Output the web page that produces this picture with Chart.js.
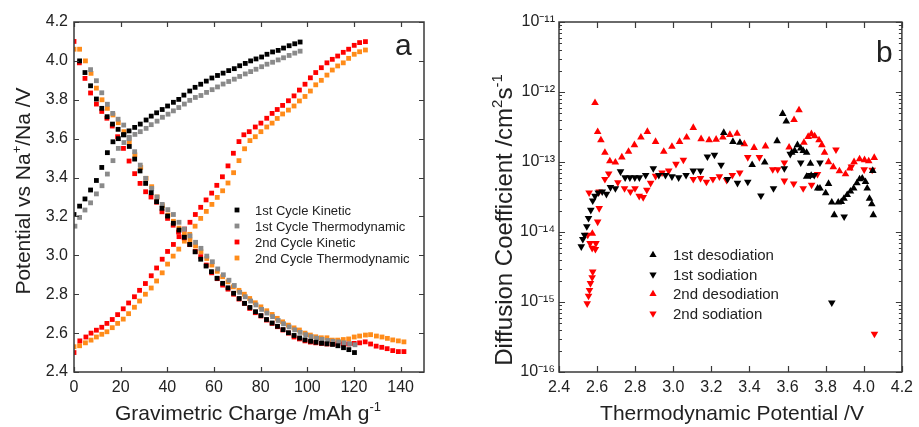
<!DOCTYPE html>
<html>
<head>
<meta charset="utf-8">
<script src="https://cdn.jsdelivr.net/npm/chart.js@4.4.0/dist/chart.umd.min.js"></script>
<style>
  html, body { margin: 0; padding: 0; background: #fff; }
  #wrap { position: relative; width: 919px; height: 427px; overflow: hidden; }
  canvas { position: absolute; top: 0; }
  #chartA { left: 0; }
  #chartB { left: 460px; }
</style>
</head>
<body>
<div id="wrap">
  <canvas id="chartA" width="460" height="427"></canvas>
  <canvas id="chartB" width="459" height="427"></canvas>
</div>
<script>
// ---- panel a : potential vs gravimetric charge, [charge mAh/g, potential V] ----
const k1Charge = [[0,3.21],[2.4,3.253],[4.7,3.29],[7.1,3.336],[9.6,3.385],[11.9,3.452],[14.3,3.528],[16.7,3.584],[19.0,3.60],[21.4,3.62],[23.6,3.64],[26.0,3.658],[28.4,3.675],[30.9,3.696],[33.1,3.716],[35.4,3.733],[37.8,3.75],[40.1,3.768],[42.6,3.787],[44.9,3.802],[47.1,3.824],[49.6,3.845],[51.9,3.864],[54.3,3.88],[56.7,3.896],[59.1,3.912],[61.5,3.925],[63.9,3.937],[66.3,3.95],[68.7,3.96],[71.0,3.975],[73.4,3.987],[75.7,4.0],[78.0,4.01],[80.4,4.02],[82.7,4.034],[85.1,4.046],[87.5,4.054],[89.8,4.066],[92.2,4.078],[94.6,4.088],[96.9,4.097]];
const k1Discharge = [[2.4,4.0],[4.7,3.94],[7.1,3.872],[9.6,3.804],[11.9,3.756],[14.2,3.713],[16.5,3.675],[18.9,3.648],[21.2,3.62],[23.7,3.56],[26.0,3.495],[28.3,3.434],[30.7,3.37],[33.1,3.322],[35.4,3.276],[37.7,3.242],[40.1,3.202],[42.6,3.165],[45.0,3.13],[47.3,3.093],[49.6,3.056],[51.9,3.018],[54.3,2.98],[56.6,2.945],[58.9,2.916],[61.3,2.882],[63.7,2.856],[66.0,2.833],[68.4,2.805],[70.8,2.778],[73.1,2.753],[75.4,2.732],[77.8,2.71],[80.1,2.69],[82.5,2.67],[84.9,2.652],[87.2,2.635],[89.6,2.618],[91.9,2.602],[94.3,2.588],[96.7,2.575],[99.0,2.565],[101.4,2.558],[103.7,2.553],[106.1,2.548],[108.4,2.545],[110.8,2.542],[113.1,2.535],[115.5,2.525],[117.8,2.515],[120.2,2.50]];
const t1Charge = [[0.4,3.15],[2.4,3.195],[4.7,3.233],[7.1,3.27],[9.6,3.316],[12.0,3.358],[14.3,3.418],[16.7,3.487],[19.0,3.55],[21.4,3.58],[23.7,3.607],[26.1,3.622],[28.4,3.636],[30.9,3.653],[33.1,3.672],[35.6,3.69],[37.9,3.71],[40.3,3.726],[42.6,3.743],[44.9,3.76],[47.3,3.778],[49.6,3.797],[52.0,3.812],[54.4,3.822],[56.8,3.838],[59.2,3.852],[61.5,3.866],[63.9,3.881],[66.3,3.894],[68.7,3.906],[71.0,3.92],[73.4,3.933],[75.7,3.945],[78.0,3.957],[80.4,3.97],[82.7,3.983],[85.1,3.993],[87.5,4.005],[89.8,4.016],[92.2,4.028],[94.6,4.04],[96.9,4.05]];
const t1Discharge = [[7.1,3.955],[9.6,3.898],[11.9,3.836],[14.3,3.777],[16.6,3.73],[18.9,3.70],[21.3,3.67],[23.6,3.60],[26.0,3.533],[28.4,3.464],[30.7,3.396],[33.3,3.344],[35.6,3.30],[37.8,3.262],[40.2,3.235],[42.6,3.21],[45.0,3.17],[47.3,3.135],[49.7,3.10],[52.1,3.067],[54.4,3.036],[56.9,2.996],[59.3,2.967],[61.6,2.93],[64.0,2.90],[66.4,2.872],[68.7,2.845],[71.0,2.81],[73.4,2.787],[75.7,2.765],[78.0,2.745],[80.4,2.722],[82.7,2.703],[85.1,2.685],[87.5,2.665],[89.8,2.648],[92.2,2.632],[94.6,2.617],[96.9,2.604],[99.3,2.592],[101.6,2.582],[104.0,2.574],[106.3,2.568],[108.7,2.562],[111.0,2.558],[113.4,2.555],[115.7,2.55],[118.1,2.545],[120.4,2.54]];
const k2Charge = [[0,2.50],[2.5,2.56],[5.1,2.58],[7.3,2.60],[9.6,2.615],[11.9,2.63],[14.1,2.65],[16.4,2.67],[18.7,2.695],[21.1,2.725],[23.4,2.755],[25.9,2.787],[28.1,2.82],[30.6,2.855],[33.1,2.895],[35.4,2.935],[37.8,2.98],[40.1,3.02],[42.6,3.056],[45.0,3.096],[47.4,3.135],[49.7,3.17],[52.0,3.21],[54.3,3.247],[56.6,3.285],[59.0,3.32],[61.2,3.36],[63.6,3.404],[66.0,3.46],[68.3,3.525],[70.7,3.585],[72.8,3.62],[75.1,3.636],[77.7,3.66],[80.1,3.68],[82.6,3.705],[84.9,3.73],[87.1,3.75],[89.4,3.771],[91.9,3.795],[94.3,3.82],[96.6,3.85],[99.0,3.88],[101.3,3.913],[103.6,3.94],[106.0,3.965],[108.4,3.99],[110.7,4.008],[113.0,4.025],[115.4,4.044],[117.7,4.06],[120.1,4.08],[122.4,4.094],[124.9,4.099]];
const k2Discharge = [[0,4.10],[2.3,3.99],[4.7,3.91],[7.1,3.835],[9.6,3.778],[11.9,3.74],[14.1,3.705],[16.4,3.665],[18.7,3.61],[21.2,3.55],[23.6,3.485],[26.0,3.42],[28.3,3.37],[30.7,3.327],[33.0,3.30],[35.4,3.273],[37.7,3.224],[40.1,3.19],[42.5,3.155],[44.8,3.12],[47.2,3.09],[49.6,3.055],[52.0,3.02],[54.3,2.993],[56.7,2.95],[59.0,2.91],[61.4,2.88],[63.7,2.847],[66.0,2.826],[68.4,2.80],[70.7,2.775],[73.0,2.753],[75.3,2.727],[77.7,2.705],[80.1,2.688],[82.5,2.667],[84.9,2.65],[87.2,2.633],[89.5,2.616],[91.9,2.60],[94.3,2.58],[96.6,2.57],[99.0,2.56],[101.3,2.554],[103.6,2.55],[106.0,2.547],[108.4,2.544],[110.7,2.544],[113.0,2.544],[115.4,2.544],[117.7,2.544],[120.1,2.547],[122.4,2.55],[124.8,2.555],[127.1,2.544],[129.5,2.533],[131.9,2.527],[134.2,2.52],[136.6,2.51],[139.0,2.505],[141.4,2.505]];
const t2Charge = [[0,2.53],[2.4,2.535],[4.9,2.55],[7.3,2.564],[9.6,2.58],[11.9,2.594],[14.1,2.607],[16.4,2.628],[18.7,2.65],[21.1,2.672],[23.4,2.70],[25.9,2.733],[28.1,2.765],[30.6,2.80],[33.1,2.832],[35.4,2.868],[37.8,2.91],[40.1,2.955],[42.5,2.996],[44.9,3.032],[47.3,3.073],[49.6,3.108],[51.9,3.15],[54.3,3.19],[56.7,3.226],[59.1,3.262],[61.4,3.298],[63.7,3.332],[66.0,3.372],[68.4,3.425],[70.7,3.487],[73.1,3.548],[75.4,3.59],[77.7,3.61],[80.1,3.636],[82.6,3.66],[84.9,3.68],[87.1,3.704],[89.4,3.727],[91.9,3.747],[94.3,3.768],[96.6,3.794],[99.0,3.817],[101.3,3.845],[103.6,3.877],[106.0,3.90],[108.4,3.927],[110.7,3.953],[113.0,3.974],[115.4,3.99],[117.7,4.013],[120.1,4.034],[122.4,4.047],[124.9,4.056]];
const t2Discharge = [[0,4.06],[2.4,4.06],[4.9,4.0],[7.3,3.936],[9.6,3.86],[12.0,3.80],[14.3,3.756],[16.7,3.722],[19.0,3.682],[21.4,3.636],[23.7,3.584],[26.1,3.517],[28.6,3.452],[30.9,3.396],[33.3,3.353],[35.6,3.30],[37.9,3.255],[40.3,3.207],[42.6,3.175],[45.0,3.14],[47.3,3.11],[49.7,3.08],[52.1,3.048],[54.4,3.018],[56.9,2.984],[59.1,2.95],[61.4,2.918],[63.7,2.89],[66.0,2.864],[68.3,2.838],[70.7,2.82],[73.0,2.80],[75.3,2.778],[77.7,2.756],[80.1,2.735],[82.6,2.715],[84.9,2.696],[87.1,2.676],[89.4,2.658],[91.9,2.641],[94.3,2.627],[96.6,2.616],[99.0,2.60],[101.3,2.59],[103.6,2.581],[106.0,2.576],[108.4,2.576],[110.7,2.564],[113.0,2.564],[115.4,2.567],[117.7,2.57],[120.1,2.58],[122.4,2.585],[124.9,2.59],[127.1,2.592],[129.6,2.585],[132.0,2.58],[134.3,2.573],[136.6,2.565],[139.0,2.56],[141.4,2.555]];

const xTicksA = [0, 20, 40, 60, 80, 100, 120, 140];
const yTicksA = [2.4, 2.6, 2.8, 3.0, 3.2, 3.4, 3.6, 3.8, 4.0, 4.2];

// ---- panel b : diffusion coefficient vs thermodynamic potential, [V, cm2/s] ----
const desod1 = [[3.265,2.62e-13],[3.313,1.95e-13],[3.35,1.89e-13],[3.414,9.1e-14],[3.48,9.9e-14],[3.545,2.0e-13],[3.574,4.9e-13],[3.593,3.8e-13],[3.622,1.36e-13],[3.637,1.45e-13],[3.652,1.75e-13],[3.669,1.57e-13],[3.682,1.44e-13],[3.70,1.36e-13],[3.70,6.2e-14],[3.72,9.5e-14],[3.724,6.4e-14],[3.758,4.2e-14],[3.77,4.2e-14],[3.80,3.6e-14],[3.815,4.9e-14],[3.832,2.65e-14],[3.845,1.75e-14],[3.866,2.65e-14],[3.882,2.7e-14],[3.896,3.0e-14],[3.913,3.4e-14],[3.93,3.8e-14],[3.947,4.2e-14],[3.964,5.0e-14],[3.978,5.7e-14],[3.992,5.85e-14],[4.009,5.2e-14],[4.018,4.2e-14],[4.03,3.0e-14],[4.042,2.5e-14],[4.047,7.5e-14],[4.05,1.75e-14]];
const sod1 = [[2.517,6.2e-15],[2.525,7.9e-15],[2.534,9.1e-15],[2.546,1.2e-14],[2.555,1.58e-14],[2.567,2.06e-14],[2.577,2.8e-14],[2.589,3.27e-14],[2.606,3.65e-14],[2.627,3.77e-14],[2.649,3.49e-14],[2.67,4.35e-14],[2.696,4.2e-14],[2.723,7.3e-14],[2.747,6.0e-14],[2.772,6.0e-14],[2.798,6.0e-14],[2.822,6.0e-14],[2.855,6.5e-14],[2.895,8.1e-14],[2.924,6.5e-14],[2.959,6.5e-14],[2.993,6.2e-14],[3.028,6.0e-14],[3.067,6.5e-14],[3.105,7.5e-14],[3.143,7.5e-14],[3.179,1.19e-13],[3.216,1.26e-13],[3.251,9.1e-14],[3.285,5.7e-14],[3.337,5.0e-14],[3.391,5.2e-14],[3.46,3.3e-14],[3.526,4.2e-14],[3.583,8.1e-14],[3.614,1.3e-13],[3.669,9.8e-14],[3.72,6.5e-14],[3.74,6.5e-14],[3.77,9.8e-14],[3.832,9.8e-16],[3.897,1.66e-14]];
const desod2 = [[2.575,9.5e-15],[2.589,7.0e-13],[2.603,2.7e-13],[2.62,2.06e-13],[2.641,1.36e-13],[2.667,1.03e-13],[2.696,9.9e-14],[2.73,1.17e-13],[2.765,1.41e-13],[2.796,1.75e-13],[2.83,2.25e-13],[2.864,2.71e-13],[2.907,1.95e-13],[2.95,1.41e-13],[2.993,1.66e-13],[3.033,1.95e-13],[3.07,2.25e-13],[3.105,3.09e-13],[3.146,2.13e-13],[3.188,2.06e-13],[3.225,2.1e-13],[3.26,2.25e-13],[3.297,2.45e-13],[3.335,2.55e-13],[3.373,1.81e-13],[3.424,1.6e-13],[3.484,1.68e-13],[3.608,1.62e-13],[3.634,4.0e-13],[3.66,5.5e-13],[3.686,1.89e-13],[3.708,2.3e-13],[3.725,2.51e-13],[3.742,2.34e-13],[3.765,2.06e-13],[3.78,1.75e-13],[3.794,1.36e-13],[3.815,1.0e-13],[3.84,8.5e-14],[3.872,7.4e-14],[3.904,6.7e-14],[3.927,8.1e-14],[3.949,1.0e-13],[3.978,1.1e-13],[4.004,1.07e-13],[4.026,1.03e-13],[4.055,1.15e-13]];
const sod2 = [[2.548,9.5e-16],[2.555,1.22e-15],[2.56,1.48e-15],[2.565,1.85e-15],[2.574,2.25e-15],[2.577,2.7e-15],[2.551,9.1e-15],[2.563,6.9e-15],[2.574,5.9e-15],[2.594,6.9e-15],[2.591,5.7e-15],[2.603,1.4e-14],[2.611,2.18e-14],[2.611,3.77e-14],[2.558,3.65e-14],[2.641,5.7e-14],[2.661,6.8e-14],[2.709,5.1e-14],[2.744,4.2e-14],[2.775,3.77e-14],[2.799,4.2e-14],[2.821,3.27e-14],[2.842,3.13e-14],[2.861,4.0e-14],[2.881,5.0e-14],[2.907,6.3e-14],[2.941,7.05e-14],[2.976,7.5e-14],[3.014,9.35e-14],[3.053,1.07e-13],[3.105,5.7e-14],[3.143,5.85e-14],[3.174,5.2e-14],[3.208,5.7e-14],[3.242,6.2e-14],[3.28,5.5e-14],[3.31,6.5e-14],[3.349,7.05e-14],[3.391,1.17e-13],[3.452,1.17e-13],[3.522,7.85e-14],[3.548,7.85e-14],[3.583,9.8e-14],[3.583,5.4e-14],[3.632,4.9e-14],[3.682,4.2e-14],[3.726,4.7e-14],[3.757,6.7e-14],[3.854,1.5e-13],[3.935,8.6e-14],[4.002,7.8e-14],[4.044,7.7e-14],[4.056,3.5e-16]];

const xTicksB = [2.4, 2.6, 2.8, 3.0, 3.2, 3.4, 3.6, 3.8, 4.0, 4.2];
const yTicksB = [1e-16, 1e-15, 1e-14, 1e-13, 1e-12, 1e-11];

const FONT = '"Liberation Sans", Arial, sans-serif';
const INK = '#222222';

function pts(arr) {
    return arr.map(p => ({ x: p[0], y: p[1] }));
}

function supNum(n) {
    const map = { '-': '\u207B', '0': '\u2070', '1': '\u00B9', '2': '\u00B2', '3': '\u00B3', '4': '\u2074', '5': '\u2075', '6': '\u2076', '7': '\u2077', '8': '\u2078', '9': '\u2079' };
    return String(n).split('').map(c => map[c]).join('');
}

// text with small raised parts, centred on (cx, cy)
function drawRich(ctx, parts, cx, cy, size, vertical) {
    ctx.save();
    ctx.translate(cx, cy);
    if (vertical) ctx.rotate(-Math.PI / 2);
    ctx.fillStyle = INK;
    ctx.textBaseline = 'alphabetic';
    const supSize = Math.round(size * 0.62);
    let total = 0;
    const widths = parts.map(p => {
        ctx.font = (p.sup ? supSize : size) + 'px ' + FONT;
        const w = ctx.measureText(p.t).width;
        total += w;
        return w;
    });
    let x = -total / 2;
    const base = size * 0.36;
    parts.forEach((p, i) => {
        ctx.font = (p.sup ? supSize : size) + 'px ' + FONT;
        ctx.fillText(p.t, x, p.sup ? base - size * 0.42 : base);
        x += widths[i];
    });
    ctx.restore();
}

// box frame with inward ticks on all four sides
const frame = {
    id: 'frame',
    afterDatasetsDraw(chart, args, o) {
        const { ctx, chartArea: a } = chart;
        const sx = chart.scales.x, sy = chart.scales.y;
        ctx.save();
        ctx.strokeStyle = '#3a3a3a';
        ctx.lineWidth = 1.2;
        ctx.beginPath();
        sx.ticks.forEach(t => {
            const p = Math.round(sx.getPixelForValue(t.value)) + 0.5;
            ctx.moveTo(p, a.bottom); ctx.lineTo(p, a.bottom - o.major);
            ctx.moveTo(p, a.top); ctx.lineTo(p, a.top + o.major);
        });
        sy.ticks.forEach(t => {
            const p = Math.round(sy.getPixelForValue(t.value)) + 0.5;
            ctx.moveTo(a.left, p); ctx.lineTo(a.left + o.major, p);
            ctx.moveTo(a.right, p); ctx.lineTo(a.right - o.major, p);
        });
        (o.minorY || []).forEach(v => {
            const p = Math.round(sy.getPixelForValue(v)) + 0.5;
            ctx.moveTo(a.left, p); ctx.lineTo(a.left + o.minor, p);
            ctx.moveTo(a.right, p); ctx.lineTo(a.right - o.minor, p);
        });
        ctx.stroke();
        ctx.lineWidth = 1.5;
        ctx.strokeRect(a.left, a.top, a.right - a.left, a.bottom - a.top);
        ctx.restore();
    }
};

// legend drawn inside the plot
const keyBox = {
    id: 'keyBox',
    afterDraw(chart, args, o) {
        const ctx = chart.ctx;
        ctx.save();
        ctx.font = o.size + 'px ' + FONT;
        ctx.textBaseline = 'middle';
        chart.data.datasets.forEach((ds, i) => {
            const y = o.y + i * o.dy;
            ctx.fillStyle = ds.backgroundColor;
            Chart.helpers.drawPoint(ctx, { pointStyle: ds.pointStyle, rotation: ds.pointRotation || 0, radius: o.r, borderWidth: 0 }, o.x, y);
            ctx.fillStyle = INK;
            ctx.fillText(ds.label, o.tx, y + 1);
        });
        ctx.restore();
    }
};

// axis titles and panel letters
const texts = {
    id: 'texts',
    afterDraw(chart, args, o) {
        const ctx = chart.ctx;
        o.titles.forEach(t => drawRich(ctx, t.parts, t.x, t.y, t.size, t.vertical));
        ctx.save();
        ctx.fillStyle = INK;
        ctx.font = '30px ' + FONT;
        ctx.textBaseline = 'alphabetic';
        ctx.fillText(o.letter.t, o.letter.x, o.letter.y);
        ctx.restore();
    }
};

const tickFont = { family: FONT, size: 16 };

new Chart(document.getElementById('chartA'), {
    type: 'scatter',
    data: {
        datasets: [
            { label: '1st Cycle Kinetic', data: pts(k1Charge.concat(k1Discharge)), backgroundColor: '#000000', pointStyle: 'rect' },
            { label: '1st Cycle Thermodynamic', data: pts(t1Charge.concat(t1Discharge)), backgroundColor: '#8a8a8a', pointStyle: 'rect' },
            { label: '2nd Cycle Kinetic', data: pts(k2Charge.concat(k2Discharge)), backgroundColor: '#ff0000', pointStyle: 'rect' },
            { label: '2nd Cycle Thermodynamic', data: pts(t2Charge.concat(t2Discharge)), backgroundColor: '#ff8c1a', pointStyle: 'rect' }
        ]
    },
    options: {
        responsive: false,
        animation: false,
        events: [],
        layout: { padding: { top: 22, right: 36, left: 0, bottom: 0 } },
        elements: { point: { radius: 3.4, borderWidth: 0 } },
        plugins: {
            legend: { display: false },
            tooltip: { enabled: false },
            frame: { major: 5 },
            keyBox: { x: 237, tx: 255, y: 210, dy: 16, size: 13, r: 3.4 },
            texts: {
                titles: [
                    { parts: [{ t: 'Potential vs Na' }, { t: '+', sup: true }, { t: '/Na /V' }], x: 22, y: 191, size: 21, vertical: true },
                    { parts: [{ t: 'Gravimetric Charge /mAh g' }, { t: '-1', sup: true }], x: 248, y: 412, size: 21 }
                ],
                letter: { t: 'a', x: 395, y: 55 }
            }
        },
        scales: {
            x: {
                type: 'linear', min: 0, max: 150,
                afterBuildTicks: s => { s.ticks = xTicksA.map(v => ({ value: v })); },
                afterFit: s => { s.height = 55; },
                grid: { display: false, drawTicks: false },
                border: { display: false },
                ticks: { font: tickFont, color: INK, padding: 6, maxRotation: 0, callback: v => String(v) }
            },
            y: {
                type: 'linear', min: 2.4, max: 4.2,
                afterBuildTicks: s => { s.ticks = yTicksA.map(v => ({ value: v })); },
                afterFit: s => { s.width = 74; },
                grid: { display: false, drawTicks: false },
                border: { display: false },
                ticks: { font: tickFont, color: INK, padding: 6, callback: v => Number(v).toFixed(1) }
            }
        }
    },
    plugins: [frame, keyBox, texts]
});

const minorB = [];
yTicksB.slice(0, -1).forEach(d => { for (let k = 2; k <= 9; k++) minorB.push(d * k); });

new Chart(document.getElementById('chartB'), {
    type: 'scatter',
    data: {
        datasets: [
            { label: '1st desodiation', data: pts(desod1), backgroundColor: '#000000', pointStyle: 'triangle' },
            { label: '1st sodiation', data: pts(sod1), backgroundColor: '#000000', pointStyle: 'triangle', pointRotation: 180 },
            { label: '2nd desodiation', data: pts(desod2), backgroundColor: '#ff0000', pointStyle: 'triangle' },
            { label: '2nd sodiation', data: pts(sod2), backgroundColor: '#ff0000', pointStyle: 'triangle', pointRotation: 180 }
        ]
    },
    options: {
        responsive: false,
        animation: false,
        events: [],
        layout: { padding: { top: 22, right: 11, left: 0, bottom: 0 } },
        elements: { point: { radius: 4.4, borderWidth: 0 } },
        plugins: {
            legend: { display: false },
            tooltip: { enabled: false },
            frame: { major: 6, minor: 3, minorY: minorB },
            keyBox: { x: 193, tx: 213, y: 255, dy: 19.5, size: 15, r: 4.2 },
            texts: {
                titles: [
                    { parts: [{ t: 'Diffusion Coefficient /cm' }, { t: '2', sup: true }, { t: 's' }, { t: '-1', sup: true }], x: 43, y: 220, size: 24, vertical: true },
                    { parts: [{ t: 'Thermodynamic Potential /V' }], x: 272, y: 412, size: 21 }
                ],
                letter: { t: 'b', x: 416, y: 62 }
            }
        },
        scales: {
            x: {
                type: 'linear', min: 2.4, max: 4.2,
                afterBuildTicks: s => { s.ticks = xTicksB.map(v => ({ value: v })); },
                afterFit: s => { s.height = 55; },
                grid: { display: false, drawTicks: false },
                border: { display: false },
                ticks: { font: tickFont, color: INK, padding: 6, maxRotation: 0, callback: v => Number(v).toFixed(1) }
            },
            y: {
                type: 'logarithmic', min: 1e-16, max: 1e-11,
                afterBuildTicks: s => { s.ticks = yTicksB.map(v => ({ value: v })); },
                afterFit: s => { s.width = 99; },
                grid: { display: false, drawTicks: false },
                border: { display: false },
                ticks: { font: tickFont, color: INK, padding: 4, callback: v => '10' + supNum(Math.round(Math.log10(v))) }
            }
        }
    },
    plugins: [frame, keyBox, texts]
});
</script>
</body>
</html>
